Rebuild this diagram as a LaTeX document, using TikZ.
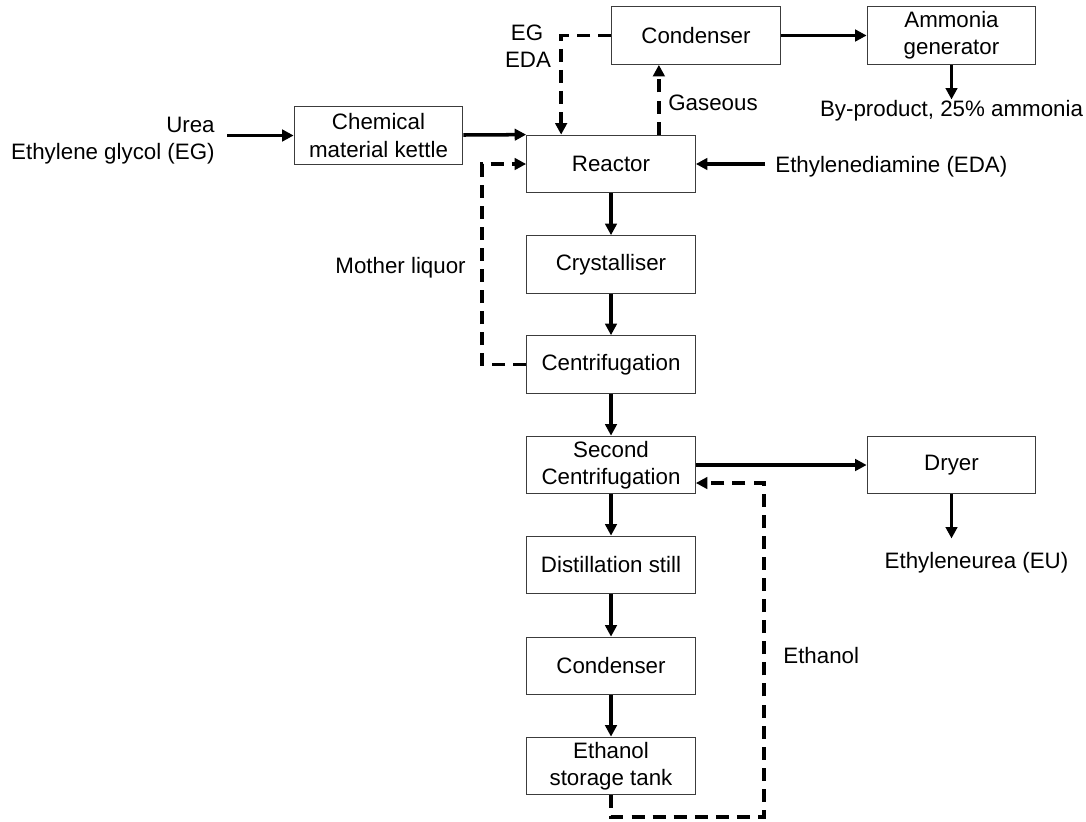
\documentclass[tikz,border=0pt]{standalone}
\usepackage{fontspec}
\setmainfont{Liberation Sans}
\usepackage{tikz}
\usetikzlibrary{positioning}
\usetikzlibrary{arrows.meta}
\definecolor{ln}{RGB}{0, 0, 0}
\definecolor{bx}{RGB}{60, 60, 60}
\def\boxh{1.15cm}
\def\boxw{3.37cm}
\tikzset{unit/.style={draw=bx,line width=0.7pt,rectangle,minimum height=\boxh,minimum width=\boxw,inner sep=0pt,align=center},
	note/.style={inner sep=0pt},
	flow/.style={-{Triangle[length=6.5pt,width=6.5pt]},line width=2pt,color=ln},
	recycle/.style={flow,dash pattern=on 7.4pt off 4.6pt}}
\newcommand{\unitnode}[4]{\node[unit] (#3) at (#1,#2) {#4};}

\begin{document}
\begin{tikzpicture}[font=\fontsize{12.7}{15.4}\selectfont]
\useasboundingbox (0,0) rectangle (21.72,-16.42);
\unitnode{7.57}{-2.71}{kettle}{Chemical\\material kettle}
\unitnode{12.22}{-3.28}{reactor}{Reactor}
\unitnode{13.92}{-0.71}{condtop}{Condenser}
\unitnode{19.03}{-0.71}{ammonia}{Ammonia\\generator}
\unitnode{12.22}{-5.29}{crystalliser}{Crystalliser}
\unitnode{12.22}{-7.29}{centrifuge}{Centrifugation}
\unitnode{12.22}{-9.30}{secondcf}{Second\\Centrifugation}
\unitnode{12.22}{-11.30}{still}{Distillation still}
\unitnode{12.22}{-13.32}{condlow}{Condenser}
\unitnode{12.22}{-15.32}{tank}{Ethanol\\storage tank}
\unitnode{19.03}{-9.30}{dryer}{Dryer}

\node[note,anchor=base east] (urea) at (4.30,-2.64) {Urea};
\node[note,anchor=base east] (glycol) at (4.30,-3.18) {Ethylene glycol (EG)};
\node[note,anchor=base] (egin) at (10.54,-0.80) {EG};
\node[note,anchor=base] (edain) at (10.56,-1.34) {EDA};
\node[note,anchor=base west] (gaseous) at (13.36,-2.20) {Gaseous};
\node[note,anchor=base] (byproduct) at (19.03,-2.32) {By-product, 25\% ammonia};
\node[note,anchor=base west] (eda) at (15.50,-3.44) {Ethylenediamine (EDA)};
\node[note,anchor=base east] (mother) at (9.32,-5.46) {Mother liquor};
\node[note,anchor=base west] (ethanol) at (15.66,-13.26) {Ethanol};
\node[note,anchor=base] (eu) at (19.53,-11.36) {Ethyleneurea (EU)};
\coordinate (ethret) at (15.28,-16.34);

\draw[flow] ([xshift=0.24cm]urea.east |- kettle) -- (kettle);
\draw[flow] (kettle) -- (reactor.north west);
\draw[flow] ([xshift=-0.2cm]eda.west |- reactor) -- (reactor);
\draw[flow] (condtop) -- (ammonia);
\draw[flow] (ammonia) -- (byproduct);
\draw[flow] (reactor) -- (crystalliser);
\draw[flow] (crystalliser) -- (centrifuge);
\draw[flow] (centrifuge) -- (secondcf);
\draw[flow] (secondcf) -- (still);
\draw[flow] (still) -- (condlow);
\draw[flow] (condlow) -- (tank);
\draw[flow] (secondcf) -- (dryer);
\draw[flow] (dryer) -- ([yshift=0.26cm]dryer |- eu.north);

\draw[recycle] ([xshift=-0.74cm]reactor.north east) -- ([xshift=-0.74cm]reactor.north east |- condtop.south);
\draw[recycle] (condtop.west) -| ([xshift=0.70cm]reactor.north west);
\draw[recycle] (centrifuge.west) -| ([xshift=-0.88cm]reactor.west) -- (reactor.west);
\draw[recycle] (tank.south) |- (ethret) |- ([yshift=-0.36cm]secondcf.east);
\end{tikzpicture}
\end{document}
